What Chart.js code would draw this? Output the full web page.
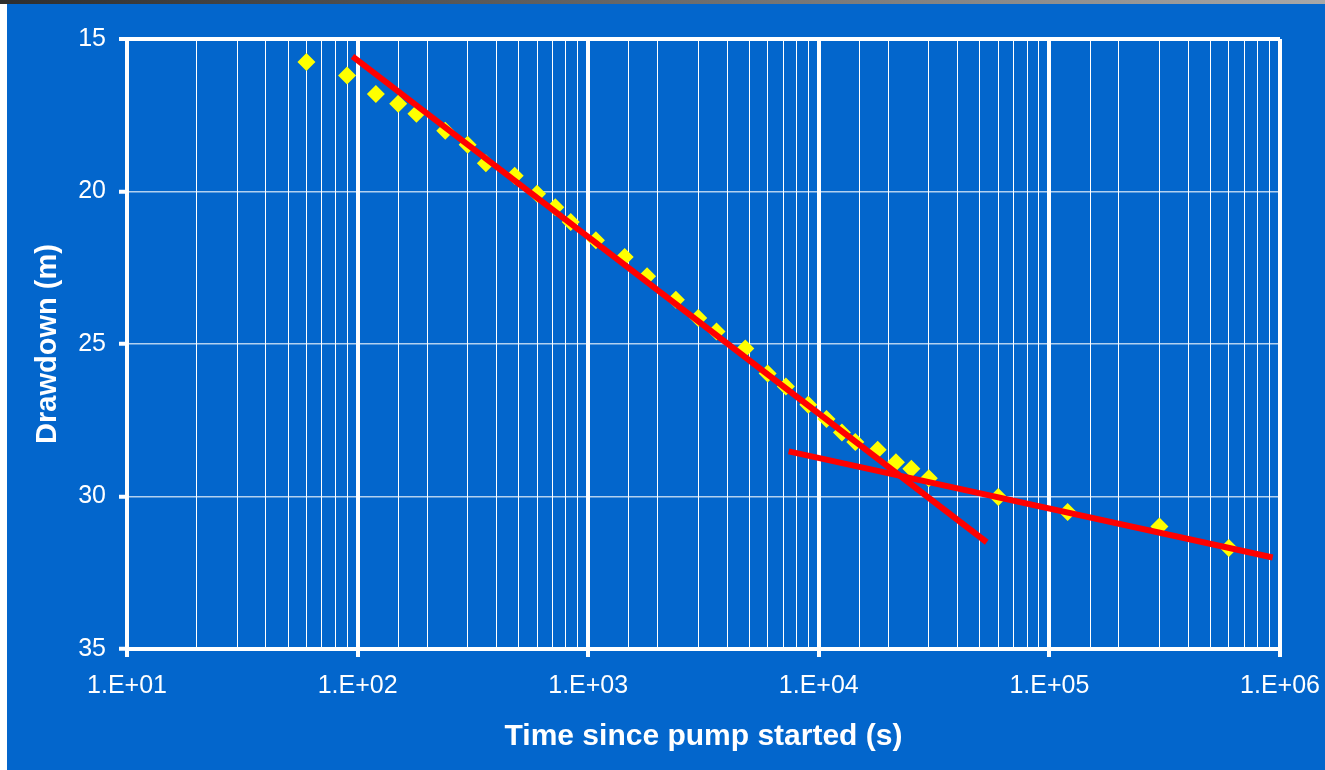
<!DOCTYPE html>
<html>
<head>
<meta charset="utf-8">
<script src="https://cdn.jsdelivr.net/npm/chart.js@4"></script>
<style>
  html, body { margin: 0; padding: 0; background: #fff; }
  #strip {
    position: absolute; left: 0; top: 0; width: 1325px; height: 4px;
    background: linear-gradient(to right, #2e2e2e, #6a6a6a 50%, #a8a8a8);
  }
  #panel {
    position: absolute; left: 7px; top: 4px; width: 1318px; height: 766px;
    background: #0366cc;
  }
</style>
</head>
<body>
<div id="strip"></div>
<div id="panel"><canvas id="chart" width="1318" height="766"></canvas></div>
<script>
// pumping test: time since pump started (s) vs drawdown (m)
const times = [60, 90, 120, 150, 180, 240, 300, 360, 480, 600, 720, 840, 1080, 1440, 1800,
  2400, 3000, 3600, 4800, 6000, 7200, 9000, 10800, 12600, 14400, 18000, 21600, 25200, 30000,
  60000, 120000, 300000, 600000];
const drawdowns = [15.75, 16.2, 16.8, 17.12, 17.45, 18.01, 18.47, 19.07, 19.48, 20.07, 20.52,
  21.0, 21.6, 22.15, 22.78, 23.55, 24.15, 24.59, 25.15, 25.97, 26.39, 26.99, 27.46, 27.9,
  28.21, 28.47, 28.88, 29.09, 29.4, 30.02, 30.51, 30.98, 31.69];

// straight-line fits drawn by hand on the plot
const earlyFitTimes = [95, 53500];
const earlyFitDrawdowns = [15.57, 31.5];
const lateFitTimes = [7400, 930000];
const lateFitDrawdowns = [28.52, 32.0];

const yTicks = [15, 20, 25, 30, 35];

const FONT = "'Liberation Sans', Arial, sans-serif";
const WHITE = '#ffffff';

const toPoints = (xs, ys) => xs.map((x, i) => ({ x, y: ys[i] }));
const isDecade = (v) => Math.abs(Math.log10(v) - Math.round(Math.log10(v))) < 1e-9;

const ctx = document.getElementById('chart').getContext('2d');
new Chart(ctx, {
  type: 'scatter',
  data: {
    datasets: [
      {
        label: 'Early fit',
        data: toPoints(earlyFitTimes, earlyFitDrawdowns),
        showLine: true,
        borderColor: '#ff0000',
        borderWidth: 6,
        pointRadius: 0,
        order: 1,
      },
      {
        label: 'Late fit',
        data: toPoints(lateFitTimes, lateFitDrawdowns),
        showLine: true,
        borderColor: '#ff0000',
        borderWidth: 6,
        pointRadius: 0,
        order: 1,
      },
      {
        label: 'Drawdown',
        data: toPoints(times, drawdowns),
        pointStyle: 'rectRot',
        pointRadius: 9,
        pointBorderWidth: 0,
        backgroundColor: '#ffff00',
        borderColor: '#ffff00',
        order: 2,
      },
    ],
  },
  options: {
    responsive: false,
    animation: false,
    layout: { padding: { top: 35, right: 45 } },
    plugins: { legend: { display: false }, tooltip: { enabled: false } },
    scales: {
      x: {
        type: 'logarithmic',
        min: 10,
        max: 1000000,
        afterFit: (scale) => {
          scale.height = 121;
          scale.paddingLeft = 0;
          scale.paddingRight = 0;
        },
        border: { color: WHITE, width: 4 },
        grid: {
          color: WHITE,
          lineWidth: (c) => (c.tick && isDecade(c.tick.value) ? 4 : 1),
          tickColor: (c) => (c.tick && isDecade(c.tick.value) ? WHITE : 'rgba(0,0,0,0)'),
          tickWidth: 4,
          tickLength: 8,
        },
        ticks: {
          autoSkip: false,
          maxRotation: 0,
          padding: 14,
          color: WHITE,
          font: { family: FONT, size: 25 },
          callback: (v) => {
            if (!isDecade(v)) return '';
            const e = Math.round(Math.log10(v));
            return '1.E+' + String(e).padStart(2, '0');
          },
        },
        title: {
          display: true,
          text: 'Time since pump started (s)',
          color: WHITE,
          font: { family: FONT, size: 30, weight: 'bold' },
          padding: { top: 0, bottom: 15 },
        },
      },
      y: {
        reverse: true,
        min: 15,
        max: 35,
        afterFit: (scale) => { scale.width = 120; },
        afterBuildTicks: (scale) => { scale.ticks = yTicks.map((v) => ({ value: v })); },
        border: { color: WHITE, width: 4 },
        grid: {
          color: (c) => (c.tick && c.tick.value === 15 ? WHITE : 'rgba(255,255,255,0.7)'),
          lineWidth: (c) => (c.tick && c.tick.value === 15 ? 4 : 1.5),
          tickColor: WHITE,
          tickWidth: 4,
          tickLength: 8,
        },
        ticks: {
          padding: 13,
          color: WHITE,
          font: { family: FONT, size: 25 },
        },
        title: {
          display: true,
          text: 'Drawdown (m)',
          color: WHITE,
          font: { family: FONT, size: 29, weight: 'bold' },
          padding: { top: 24, bottom: 0 },
        },
      },
    },
  },
});
</script>
</body>
</html>
